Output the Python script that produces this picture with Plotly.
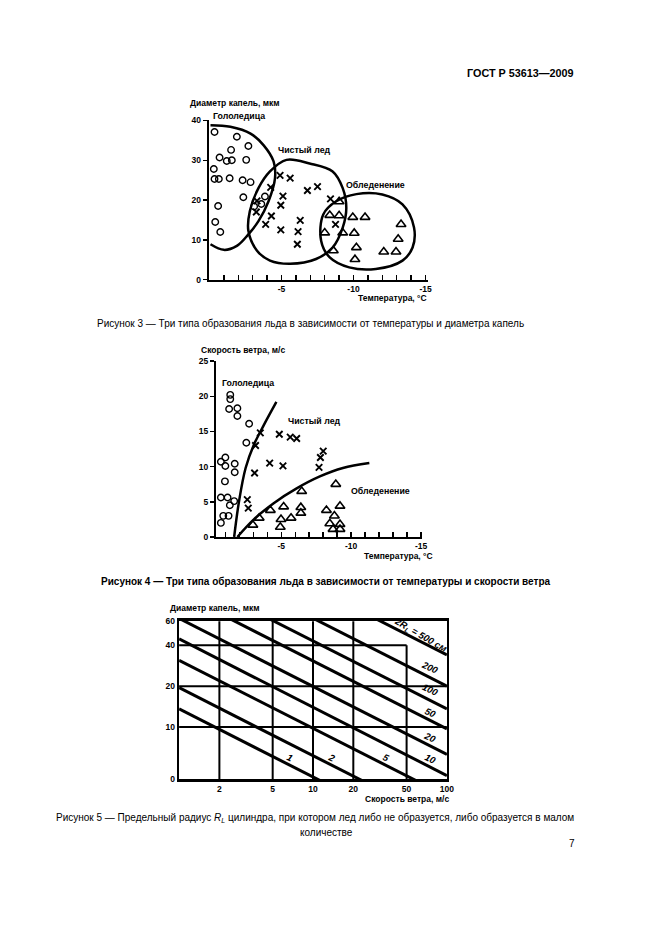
import plotly.graph_objects as go

W, H = 661, 935
def px(x): return x / W
def py(y): return 1 - y / H

FONT = "Liberation Sans, Arial, sans-serif"

# ---------------- Figure 3: temperature vs droplet diameter ----------------
f3_circle_t = [-0.35, -1.9, -1.5, -2.7, -0.7, -1.2, -1.55, -2.55, -0.3, -0.35, -0.65, -1.4, -2.3, -2.85,
               -2.35, -3.85, -3.6, -3.1, -0.6, -0.4, -0.75]
f3_circle_d = [37.1, 35.9, 32.6, 33.6, 30.7, 29.8, 30.0, 30.1, 27.8, 25.3, 25.3, 25.5, 25.0, 24.5,
               20.7, 20.9, 19.0, 18.4, 18.5, 14.5, 12.0]
f3_cross_t = [-4.9, -5.6, -4.25, -7.5, -6.8, -5.1, -4.95, -3.3, -3.25, -4.3, -8.4, -6.3, -3.9, -8.75,
              -4.95, -6.15, -6.1]
f3_cross_d = [26.2, 25.5, 23.2, 23.4, 22.4, 21.0, 18.7, 19.8, 17.0, 16.0, 20.3, 14.9, 13.9, 13.9,
              12.5, 12.1, 8.9]
f3_tri_t = [-9.0, -8.35, -9.0, -9.95, -10.8, -13.3, -8.0, -9.25, -10.05, -13.1, -10.2, -8.6, -12.1,
            -12.95, -10.1]
f3_tri_d = [19.6, 16.2, 16.1, 15.7, 15.7, 13.9, 11.8, 11.8, 11.7, 10.2, 8.1, 7.3, 7.0, 7.0, 5.1]

f3_glaze_t = [-0.07, -1.0, -1.9, -2.7, -3.4, -4.1, -4.55, -4.45, -3.75, -2.85, -1.45, -0.07]
f3_glaze_d = [8.9, 7.5, 8.5, 11.4, 14.7, 19.7, 25.5, 29.7, 33.8, 36.7, 38.4, 38.8]
f3_clear_t = [-5.35, -6.95, -8.55, -9.25, -9.5, -9.25, -8.55, -7.4, -5.6, -4.2, -3.3, -2.7, -2.8,
              -3.4, -4.2, -5.35]
f3_clear_d = [30.1, 29.2, 27.2, 23.0, 18.0, 13.1, 8.1, 5.2, 4.0, 4.8, 7.3, 12.3, 17.2, 23.0, 27.2, 30.1]
f3_rime_t = [-7.9, -8.8, -10.2, -12.0, -13.4, -14.2, -14.1, -13.4, -11.55, -9.7, -8.35, -7.75, -7.9]
f3_rime_d = [16.4, 19.7, 21.5, 21.4, 18.9, 13.1, 8.1, 4.8, 2.7, 3.1, 5.6, 9.8, 16.4]

f3_y_ticks = [0, 10, 20, 30, 40]

# ---------------- Figure 4: temperature vs wind speed ----------------
f4_circle_t = [-1.35, -1.35, -1.27, -1.86, -1.86, -2.7, -2.5, -1.0, -0.68, -1.0, -1.67, -1.67, -0.97,
               -0.68, -1.16, -1.63, -1.32, -0.85, -1.23, -0.68]
f4_circle_v = [20.2, 19.6, 18.2, 18.3, 17.2, 16.1, 13.4, 11.3, 10.7, 10.1, 10.4, 9.2, 7.9,
               5.6, 5.6, 5.1, 4.5, 3.0, 3.0, 2.0]
f4_cross_t = [-3.5, -4.86, -5.64, -6.1, -3.16, -4.17, -5.12, -3.09, -8.0, -7.8, -7.7, -2.57, -2.64]
f4_cross_v = [14.8, 14.6, 14.2, 14.0, 13.0, 10.5, 10.1, 9.1, 12.2, 11.3, 9.9, 5.3, 4.1]
f4_tri_t = [-8.9, -6.46, -9.2, -5.17, -6.4, -4.22, -3.42, -6.4, -8.23, -4.98, -5.7, -8.8, -2.97,
            -4.93, -8.47, -8.7, -9.2, -9.2]
f4_tri_v = [7.5, 6.5, 4.4, 4.3, 4.2, 3.8, 2.7, 3.4, 3.8, 2.5, 2.7, 3.0, 1.7, 1.4, 1.9, 1.1, 1.8, 1.1]

f4_b1_t = [-1.63, -1.98, -2.45, -3.04, -3.75, -4.65]
f4_b1_v = [0, 5.1, 9.8, 13.1, 15.9, 19.2]
f4_b2_t = [-1.86, -3.04, -4.46, -6.1, -7.76, -9.41, -11.3]
f4_b2_v = [0, 2.5, 4.8, 6.9, 8.6, 9.8, 10.5]

f4_y_ticks = [0, 5, 10, 15, 20, 25]

temp_tick_vals = [-5, -10, -15]
temp_tick_text = ["-5", "-10", "-15"]
temp_minor_step = 1

# ---------------- Figure 5: limiting cylinder radius ----------------
rl_labels = ["1", "2", "5", "10", "20", "50", "100", "200", "500"]
rl_d_at_v1 = [13.6, 19.5, 31, 44.5, 63, 97, 136, 200, 340]
rl_d_at_v100 = [1.36, 1.95, 3.1, 4.4, 6.3, 9.7, 13.6, 20, 34]
rl_v_ends = [1, 100]

f5_x_tick_vals = [2, 5, 10, 20, 50, 100]
f5_x_tick_text = ["2", "5", "10", "20", "50", "100"]
f5_y_tick_vals = [4.13, 10, 20, 40, 60]
f5_y_tick_text = ["0", "10", "20", "40", "60"]
f5_x_grid = [2, 5, 10, 20]
f5_y_grid = [10, 20]

fig = go.Figure()

curve_style = dict(color="black", width=2.5, shape="spline", smoothing=1.0)
circle_m = dict(symbol="circle-open", size=6.5, color="black", line=dict(width=1.4, color="black"))
cross_m = dict(symbol="x-thin-open", size=6.5, color="black", line=dict(width=1.9, color="black"))
tri_m = dict(symbol="triangle-up-open", size=8.5, color="black", line=dict(width=1.6, color="black"))

# Fig 3 traces
for t, d in [(f3_glaze_t, f3_glaze_d), (f3_clear_t, f3_clear_d), (f3_rime_t, f3_rime_d)]:
    fig.add_trace(go.Scatter(x=t, y=d, mode="lines", line=curve_style, xaxis="x", yaxis="y", hoverinfo="skip"))
fig.add_trace(go.Scatter(x=f3_circle_t, y=f3_circle_d, mode="markers", marker=circle_m, xaxis="x", yaxis="y", cliponaxis=False))
fig.add_trace(go.Scatter(x=f3_cross_t, y=f3_cross_d, mode="markers", marker=cross_m, xaxis="x", yaxis="y", cliponaxis=False))
fig.add_trace(go.Scatter(x=f3_tri_t, y=f3_tri_d, mode="markers", marker=tri_m, xaxis="x", yaxis="y", cliponaxis=False))

# Fig 4 traces
for t, v in [(f4_b1_t, f4_b1_v), (f4_b2_t, f4_b2_v)]:
    fig.add_trace(go.Scatter(x=t, y=v, mode="lines", line=curve_style, xaxis="x2", yaxis="y2", hoverinfo="skip"))
fig.add_trace(go.Scatter(x=f4_circle_t, y=f4_circle_v, mode="markers", marker=circle_m, xaxis="x2", yaxis="y2", cliponaxis=False))
fig.add_trace(go.Scatter(x=f4_cross_t, y=f4_cross_v, mode="markers", marker=cross_m, xaxis="x2", yaxis="y2", cliponaxis=False))
fig.add_trace(go.Scatter(x=f4_tri_t, y=f4_tri_v, mode="markers", marker=tri_m, xaxis="x2", yaxis="y2", cliponaxis=False))

# Fig 5 traces
for d1, d100 in zip(rl_d_at_v1, rl_d_at_v100):
    fig.add_trace(go.Scatter(x=rl_v_ends, y=[d1, d100], mode="lines", line=dict(color="black", width=3),
                             xaxis="x3", yaxis="y3", hoverinfo="skip"))

tickfont = dict(family=FONT, size=8.5, color="black", weight="bold")

common = dict(showline=True, linecolor="black", showgrid=False, zeroline=False, tickcolor="black",
              tickfont=tickfont, fixedrange=True)
minor_temp = dict(ticks="inside", ticklen=5, tickwidth=1.5, tickcolor="black", dtick=temp_minor_step,
                  tick0=0, showgrid=False)

fig.update_layout(
    width=W, height=H, margin=dict(l=0, r=0, t=0, b=0, pad=0), autosize=False,
    paper_bgcolor="white", plot_bgcolor="white", showlegend=False,
    font=dict(family=FONT, color="black"),
    xaxis=dict(domain=[px(211), px(433)], range=[0.05, -15.2], anchor="y", linewidth=2,
               ticks="inside", ticklen=5, tickwidth=1.5, tickvals=temp_tick_vals, ticktext=temp_tick_text,
               minor=minor_temp, **common),
    yaxis=dict(domain=[py(277.7), py(116.7)], range=[0, 40], anchor="x", linewidth=2,
               ticks="outside", ticklen=4, tickwidth=1.5, tickvals=f3_y_ticks, **common),
    xaxis2=dict(domain=[px(218.3), px(427)], range=[-0.33, -15.1], anchor="y2", linewidth=2,
                ticks="inside", ticklen=5, tickwidth=1.5, tickvals=temp_tick_vals, ticktext=temp_tick_text,
                minor=minor_temp, **common),
    yaxis2=dict(domain=[py(537.7), py(360)], range=[0, 25], anchor="x2", linewidth=2,
                ticks="outside", ticklen=4, tickwidth=1.5, tickvals=f4_y_ticks, **common),
    xaxis3=dict(domain=[px(181), px(451.7)], type="log", range=[0, 2], anchor="y3", linewidth=2.5, mirror=True,
                ticks="", tickvals=f5_x_tick_vals, ticktext=f5_x_tick_text, **common),
    yaxis3=dict(domain=[py(782.7), py(622.3)], type="log", range=[0.616, 1.783], anchor="x3", linewidth=2.5,
                mirror=True, ticks="", tickvals=f5_y_tick_vals, ticktext=f5_y_tick_text, **common),
)

# Grid of figure 5 (in data units of the log axes)
shapes = []
for g in f5_x_grid:
    shapes.append(dict(type="line", xref="x3", yref="y3", x0=g, x1=g, y0=f5_y_tick_vals[0], y1=f5_y_tick_vals[-1],
                       line=dict(color="black", width=2)))
for g in f5_y_grid:
    shapes.append(dict(type="line", xref="x3", yref="y3", x0=1, x1=100, y0=g, y1=g,
                       line=dict(color="black", width=2)))
shapes.append(dict(type="line", xref="x3", yref="y3", x0=50, x1=50, y0=f5_y_tick_vals[0], y1=40,
                   line=dict(color="black", width=2)))
shapes.append(dict(type="line", xref="x3", yref="y3", x0=1, x1=50, y0=40, y1=40,
                   line=dict(color="black", width=2)))
fig.update_layout(shapes=shapes)

ann = []
def text(x, y, s, size=8.5, bold=True, xanchor="center", angle=0, italic=False):
    if italic:
        s = "<i>" + s + "</i>"
    ann.append(dict(x=px(x), y=py(y), xref="paper", yref="paper", text=s, showarrow=False,
                    xanchor=xanchor, yanchor="middle", textangle=angle,
                    font=dict(family=FONT, size=size, color="black", weight="bold" if bold else "normal")))

text(582, 68.5, "ГОСТ Р 53613—2009", size=10.8, xanchor="right")

# Figure 3 texts
text(190, 99, "Диаметр капель, мкм", xanchor="left")
text(241.5, 111.7, "Гололедица", size=8.8)
text(308, 146.7, "Чистый лед", size=8.8)
text(380, 181.7, "Обледенение", size=8.8)
text(434, 296, "Температура, °C", xanchor="right")
text(313.5, 322, "Рисунок 3 — Три типа образования льда в зависимости от температуры и диаметра капель",
     size=10, bold=False)

# Figure 4 texts
text(201, 349, "Скорость ветра, м/с", xanchor="left")
text(250.8, 381.7, "Гололедица", size=8.8)
text(318, 420, "Чистый лед", size=8.8)
text(385, 491.7, "Обледенение", size=8.8)
text(440, 557, "Температура, °C", xanchor="right")
text(329, 583, "Рисунок 4 — Три типа образования льда в зависимости от температуры и скорости ветра",
     size=10, bold=True)

# Figure 5 texts
text(170, 610, "Диаметр капель, мкм", xanchor="left")
text(456, 803, "Скорость ветра, м/с", xanchor="right")
label_pos = [(293, 761), (335, 761), (390, 761), (435, 761.7), (435, 740), (435, 715), (435, 692.3), (435, 670)]
for (lx, ly), lab in zip(label_pos, rl_labels[:-1]):
    text(lx, ly, lab, size=9.5, angle=25, italic=True)
text(425, 637, "2<i>R</i><sub><i>L</i></sub> = 500 см", size=9.5, angle=30, italic=True)

text(318, 822, "Рисунок 5 — Предельный радиус <i>R</i><sub><i>L</i></sub> цилиндра, при котором лед либо не образуется, либо образуется в малом",
     size=10, bold=False)
text(330, 836, "количестве", size=10, bold=False)
text(578, 848, "7", size=10, bold=False)

fig.update_layout(annotations=ann)

fig.write_html("out.html",
               config={"displayModeBar": False, "staticPlot": True},
               post_script="document.body.style.margin='0px';document.body.style.padding='0px';"
                           "document.body.style.overflow='hidden';")
